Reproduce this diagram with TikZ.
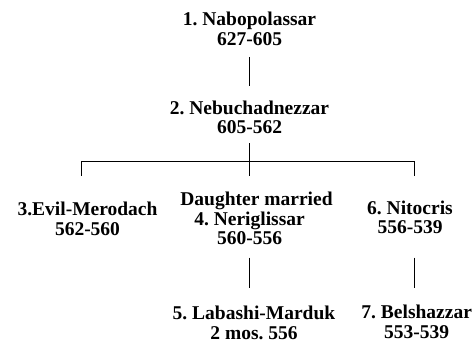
\documentclass[tikz,border=0pt]{standalone}
\usepackage{fontspec}
\setmainfont{Liberation Serif}
\begin{document}
\begin{tikzpicture}[x=1bp,y=-1bp,
  person/.style={anchor=base,inner sep=0pt,outer sep=0pt,
    font=\fontsize{19.5bp}{19.6bp}\selectfont\bfseries\frenchspacing},
  link/.style={line width=1bp}]
\useasboundingbox (0,0) rectangle (476,343);
\newcommand{\lines}[1]{\begin{tabular}[t]{@{}c@{}}#1\end{tabular}}
\node[person] (n1) at (249.5,25.5) {\lines{1. Nabopolassar\\627-605}};
\node[person] (n2) at (249.5,114) {\lines{2. Nebuchadnezzar\\605-562}};
\node[person] (n3) at (87.5,215.5) {\lines{3.Evil-Merodach\\562-560}};
\node[person] (n4) at (249.5,205.5) {\lines{\hspace*{14bp}Daughter married\\4. Neriglissar\\560-556}};
\node[person] (n6) at (410,214) {\lines{6. Nitocris\\556-539}};
\node[person] (n5) at (254,319.5) {\lines{5. Labashi-Marduk\\2 mos. 556}};
\node[person] (n7) at (416.7,318.5) {\lines{7. Belshazzar\\553-539}};
\coordinate (bar) at (249.5,161.5);
\coordinate (d3) at (81.5,175.7);
\coordinate (d4) at (249.5,175.7);
\coordinate (d6) at (414.5,175.7);
\coordinate (u5) at (249.5,257.7);
\coordinate (u7) at (414.5,257.7);
\draw[link,shorten <=5.8bp,shorten >=14.1bp] (n1.south) -- (n2.north);
\draw[link,shorten <=4bp] (n2.south) -- (bar);
\draw[link] (d3) -- (d3 |- bar) -- (d6 |- bar) -- (d6);
\draw[link] (bar) -- (d4);
\draw[link,shorten >=17.3bp] (u5) -- (u5 |- n5.north);
\draw[link,shorten >=16.3bp] (u7) -- (u7 |- n7.north);
\end{tikzpicture}
\end{document}
